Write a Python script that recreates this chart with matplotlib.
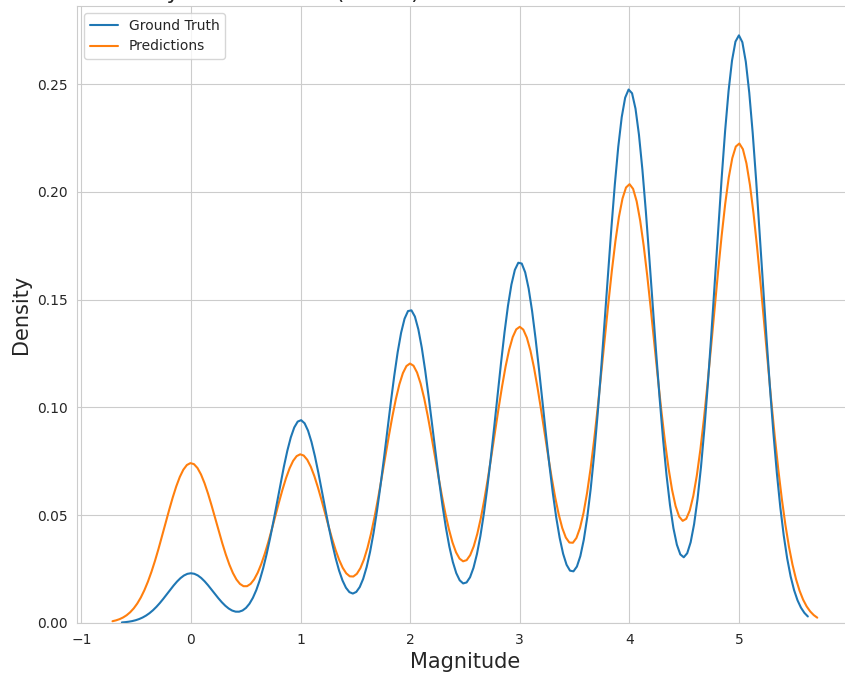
import numpy as np
import pandas as pd
import seaborn as sns
from matplotlib import pyplot as plt

# class counts per magnitude
magnitudes = [0, 1, 2, 3, 4, 5]
truth_counts = [340, 1387, 2141, 2467, 3648, 4017]
pred_counts = [1242, 1310, 2015, 2300, 3408, 3725]
series_names = ["Ground Truth", "Predictions"]

# expand the counts back into the individual observations
df = pd.DataFrame({
    "Magnitude": np.concatenate([np.repeat(magnitudes, truth_counts),
                                 np.repeat(magnitudes, pred_counts)]),
    "source": [series_names[0]] * sum(truth_counts)
              + [series_names[1]] * sum(pred_counts),
})

sns.set_style("whitegrid")

# 8.455 so the saved width rounds to 845 px
fig = plt.figure(figsize=(8.455, 6.75), dpi=100)
ax = fig.add_axes([77.2 / 845, 52 / 675, 774.8 / 845, 617 / 675])

sns.kdeplot(data=df, x="Magnitude", hue="source", hue_order=series_names,
            palette=["#1f77b4", "#ff7f0e"], linewidth=1.5, ax=ax)
sns.move_legend(ax, "upper left", title=None, fontsize=10)

ax.set_xlabel("Magnitude", fontsize=15)
ax.set_ylabel("Density", fontsize=15)
ax.tick_params(labelsize=10)

# title sits mostly above the cropped figure edge
fig.text(95 / 845, 1 + 1 / 675, "Density Distributions (Model)",
         fontsize=16, va="baseline", ha="left")

fig.savefig("out.png", dpi=100)
